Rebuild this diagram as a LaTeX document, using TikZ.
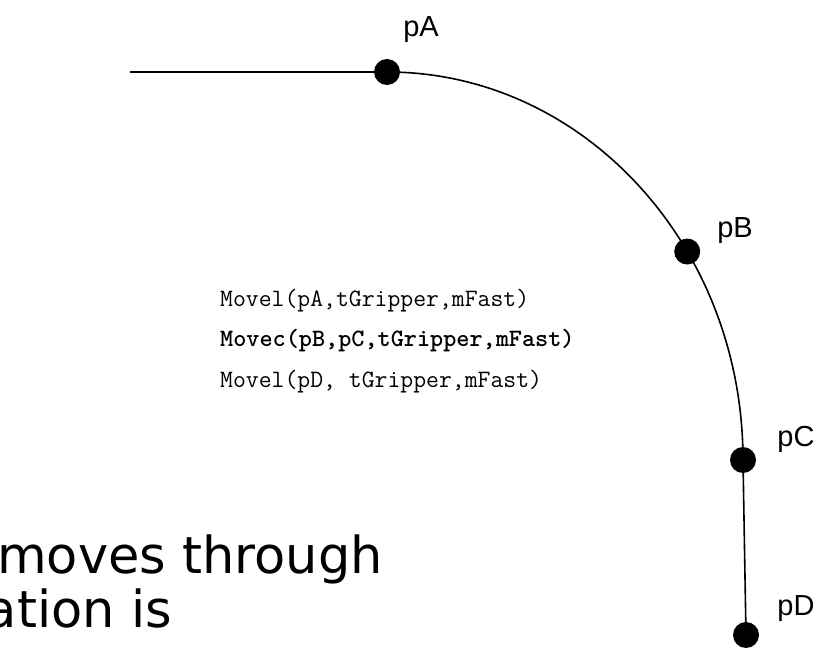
\documentclass[tikz,border=0pt]{standalone}
\usepackage{fontspec}
\usetikzlibrary{calc}
\setmainfont{DejaVu Sans}
\newfontfamily\labelfont{Liberation Sans}
\begin{document}
\begin{tikzpicture}[x=1pt,y=1pt,
  waypoint/.style={circle,fill=black,inner sep=0pt,minimum size=26pt},
  ptlabel/.style={font=\labelfont\fontsize{29}{29}\selectfont,inner sep=0pt},
  codeline/.style={font=\ttfamily\fontsize{25}{25}\selectfont,inner sep=0pt,anchor=base west},
  note/.style={font=\fontsize{51}{51}\selectfont,inner sep=0pt},
  toolpath/.style={line width=1.6pt}]
\useasboundingbox (0,0) rectangle (831,649);

% waypoints on the tool path
\coordinate (ctr) at (387,189);
\node[waypoint] (pA) at (387,577) {};
\node[waypoint] (pB) at ($(ctr)+(32.5:356 and 388)$) {};
\node[waypoint] (pC) at (743,189) {};
\node[waypoint] (pD) at (746,14) {};
\coordinate (start) at (130,577);

% linear approach, circular arc, linear exit
\draw[toolpath] (start) -- (pA.center);
\draw[toolpath] (pA.center) arc[start angle=90,end angle=0,x radius=356,y radius=388];
\draw[toolpath] (pC.center) -- (pD.center);

% point labels
\node[ptlabel] (lA) at (421,619) {pA};
\node[ptlabel] (lB) at (735,418) {pB};
\node[ptlabel] (lC) at (796,210) {pC};
\node[ptlabel] (lD) at (796,40) {pD};

% program
\node[codeline] (c1) at (220,342) {Movel(pA,tGripper,mFast)};
\node[codeline] (c2) at (220,302) {\bfseries Movec(pB,pC,tGripper,mFast)};
\node[codeline] (c3) at (220,261) {Movel(pD, tGripper,mFast)};

% explanatory text
\node[note,anchor=base west] (n1) at (-3,76) {moves through};
\node[note,anchor=base east] (n2) at (172,22) {ation is};
\end{tikzpicture}
\end{document}
